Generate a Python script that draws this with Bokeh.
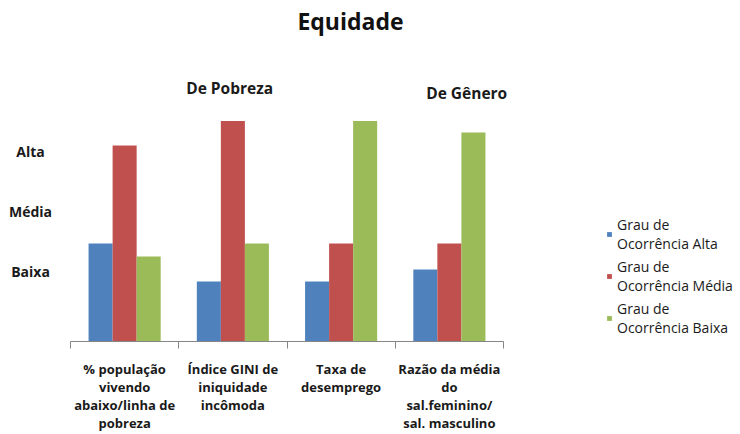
from bokeh.plotting import figure
from bokeh.models import (ColumnDataSource, Range1d, FixedTicker, LinearAxis,
                          Legend, LegendItem, Label, LabelSet)
from bokeh.core.properties import value
from bokeh.embed import file_html
from bokeh.resources import INLINE

# ---- data ----
categories = [
    "% população\nvivendo\nabaixo/linha de\npobreza",
    "Índice GINI de\niniquidade\nincômoda",
    "Taxa de\ndesemprego",
    "Razão da média\ndo\nsal.feminino/\nsal. masculino",
]
series_names = ["Grau de\nOcorrência Alta", "Grau de\nOcorrência Média", "Grau de\nOcorrência Baixa"]
alta = [4.0, 2.45, 2.45, 2.94]
media = [8.0, 9.0, 4.0, 4.0]
baixa = [3.47, 4.0, 9.0, 8.53]
level_names = ["Baixa", "Média", "Alta"]
level_values = [2.85, 5.3, 7.75]
group_titles = ["De Pobreza", "De Gênero"]
group_title_x = [1.47, 3.66]
group_title_y = [10.33, 10.16]
chart_title = "Equidade"

colors = ["#4F81BD", "#C0504D", "#9BBB59"]
FONT = "Open Sans"
TXT = "#1a1a1a"

n = len(categories)
centers = [i + 0.5 for i in range(n)]
bounds = [float(i) for i in range(n + 1)]
bar_w = 0.222

# layout geometry (pixels): category area 70..503 px, baseline at 341 px
W, H = 740, 434
px_x = 108.25
px_y = 24.5
left_pad, right_pad = 70, W - 503
bottom_pad = H - 341
x_range = Range1d(-left_pad / px_x, n + right_pad / px_x)
y_range = Range1d(-bottom_pad / px_y, (H - bottom_pad) / px_y)

p = figure(width=W, height=H, output_backend="svg", toolbar_location=None,
           x_range=x_range, y_range=y_range,
           x_axis_location=None, y_axis_location=None,
           min_border_left=0, min_border_right=0, min_border_top=0, min_border_bottom=0)
p.outline_line_color = None
p.xgrid.visible = False
p.ygrid.visible = False
p.background_fill_color = "white"
p.border_fill_color = "white"

xaxis = LinearAxis(ticker=FixedTicker(ticks=centers, minor_ticks=bounds),
                   major_label_overrides={c: lab for c, lab in zip(centers, categories)},
                   fixed_location=0, bounds=(bounds[0], bounds[-1]))
xaxis.major_tick_out = 0
xaxis.major_tick_in = 0
xaxis.minor_tick_out = 7
xaxis.minor_tick_in = 0
xaxis.axis_line_color = "#868686"
xaxis.minor_tick_line_color = "#868686"
xaxis.major_label_standoff = 11
xaxis.major_label_text_font = FONT
xaxis.major_label_text_font_style = "bold"
xaxis.major_label_text_font_size = "13px"
xaxis.major_label_text_line_height = 1.0
xaxis.major_label_text_color = TXT
p.add_layout(xaxis, "below")

series = [alta, media, baixa]
renderers = []
for j, vals in enumerate(series):
    xs = [c + (j - 1) * bar_w for c in centers]
    src = ColumnDataSource(dict(x=xs, top=vals))
    r = p.vbar(x="x", top="top", width=bar_w, bottom=0, source=src,
               fill_color=colors[j], line_color=None)
    renderers.append(r)

legend = Legend(items=[LegendItem(label=series_names[j], renderers=[renderers[j]]) for j in range(3)],
                location=(606, 97))
legend.border_line_color = None
legend.background_fill_alpha = 0
legend.label_text_font = FONT
legend.label_text_font_size = "14px"
legend.label_text_line_height = 1.0
legend.label_text_color = TXT
legend.glyph_width = 6
legend.glyph_height = 6
legend.spacing = 4
legend.padding = 0
legend.margin = 0
legend.label_standoff = 5
p.add_layout(legend)

lvl_src = ColumnDataSource(dict(y=level_values, text=level_names, x=[-40 / px_x] * len(level_values)))
p.add_layout(LabelSet(x="x", y="y", text="text", source=lvl_src,
                      text_align="center", text_baseline="middle",
                      text_font=value(FONT), text_font_style="bold", text_font_size="14px",
                      text_color=TXT))

for t, gx, gy in zip(group_titles, group_title_x, group_title_y):
    p.add_layout(Label(x=gx, y=gy, text=t, text_align="center", text_baseline="middle",
                       text_font=FONT, text_font_style="bold", text_font_size="15.5px",
                       text_color=TXT))

p.add_layout(Label(x=280 / px_x, y=321 / px_y, text=chart_title, text_align="center",
                   text_baseline="middle", text_font=FONT, text_font_style="bold",
                   text_font_size="23px", text_color="#111111"))

open("out.html", "w").write(file_html(p, INLINE))
